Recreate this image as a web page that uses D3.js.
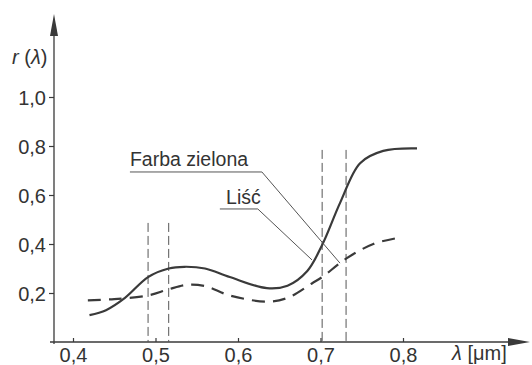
<!DOCTYPE html>
<html>
<head>
<meta charset="utf-8">
<script src="https://cdn.jsdelivr.net/npm/d3@7"></script>
<style>
  body { margin: 0; background: #fff; }
  svg text { font-family: "Liberation Sans", Arial, sans-serif; fill: #333; }
</style>
</head>
<body>
<svg id="chart" width="532" height="365"></svg>
<script>
// reflectance curves
var lambdaPaint = [0.42, 0.44, 0.463, 0.491, 0.516, 0.535, 0.56, 0.59, 0.635, 0.66, 0.684, 0.702, 0.724, 0.748, 0.776, 0.817];
var rPaint      = [0.11, 0.13, 0.18, 0.265, 0.30, 0.307, 0.30, 0.265, 0.22, 0.23, 0.29, 0.396, 0.57, 0.73, 0.78, 0.79];
var lambdaLeaf  = [0.418, 0.45, 0.491, 0.516, 0.538, 0.56, 0.59, 0.635, 0.66, 0.69, 0.702, 0.731, 0.764, 0.794];
var rLeaf       = [0.17, 0.175, 0.19, 0.215, 0.233, 0.228, 0.19, 0.165, 0.18, 0.24, 0.265, 0.34, 0.40, 0.425];
var markers     = [0.491, 0.516, 0.702, 0.731];
var markerTop   = [0.486, 0.486, 0.784, 0.784];
var xTicks = [0.4, 0.5, 0.6, 0.7, 0.8];
var yTicks = [0.2, 0.4, 0.6, 0.8, 1.0];
var labels = ['Farba zielona', 'Liść'];

var svg = d3.select('#chart'),
    ink = '#3a3a3a',
    fmt = function(d) { return d3.format('.1f')(d).replace('.', ','); };

var x = d3.scaleLinear().domain([0.4, 0.8]).range([73, 403]),
    y = d3.scaleLinear().domain([0, 1]).range([342, 97]);

// axes with arrow heads
svg.append('line').attr('x1', 50).attr('x2', 512).attr('y1', y(0)).attr('y2', y(0))
  .attr('stroke', ink).attr('stroke-width', 1.3);
svg.append('path').attr('d', 'M530,' + y(0) + 'L508,' + (y(0) - 4) + 'L508,' + (y(0) + 4) + 'Z').attr('fill', ink);
svg.append('line').attr('x1', x(0.4) - 19).attr('x2', x(0.4) - 19).attr('y1', y(0) + 2).attr('y2', 34)
  .attr('stroke', ink).attr('stroke-width', 1.3);
svg.append('path').attr('d', 'M' + (x(0.4) - 19) + ',14L' + (x(0.4) - 23) + ',36L' + (x(0.4) - 15) + ',36Z').attr('fill', ink);

var gx = svg.append('g').attr('transform', 'translate(0,' + y(0) + ')')
  .call(d3.axisBottom(x).tickValues(xTicks).tickSize(-4).tickFormat(fmt));
var gy = svg.append('g').attr('transform', 'translate(' + (x(0.4) - 19) + ',0)')
  .call(d3.axisLeft(y).tickValues(yTicks).tickSize(5).tickFormat(fmt));
[gx, gy].forEach(function(g) {
  g.select('.domain').remove();
  g.selectAll('.tick line').attr('stroke', ink).attr('stroke-width', 1.2);
  g.selectAll('.tick text').attr('font-size', 20).attr('fill', '#333');
});
gx.selectAll('.tick text').attr('y', 20).attr('dy', null);
gy.selectAll('.tick text').attr('x', -8).attr('dy', '0.35em');

// axis titles
var xt = svg.append('text').attr('x', 452).attr('y', 360).attr('font-size', 20);
xt.append('tspan').attr('font-style', 'italic').text('λ');
xt.append('tspan').text(' [μm]');
var yt = svg.append('text').attr('x', 12).attr('y', 64).attr('font-size', 20);
yt.append('tspan').attr('font-style', 'italic').text('r');
yt.append('tspan').text(' (');
yt.append('tspan').attr('font-style', 'italic').text('λ');
yt.append('tspan').text(')');

// dashed marker lines
svg.selectAll('line.marker').data(markers).enter().append('line')
  .attr('class', 'marker')
  .attr('x1', function(d) { return x(d); }).attr('x2', function(d) { return x(d); })
  .attr('y1', function(d, i) { return y(markerTop[i]); }).attr('y2', y(0))
  .attr('stroke', '#555').attr('stroke-width', 1).attr('stroke-dasharray', '9,4');

// curves
var line = d3.line().curve(d3.curveCatmullRom.alpha(0.5))
  .x(function(d) { return x(d[0]); }).y(function(d) { return y(d[1]); });

svg.append('path').datum(d3.zip(lambdaLeaf, rLeaf)).attr('d', line)
  .attr('fill', 'none').attr('stroke', ink).attr('stroke-width', 2.2).attr('stroke-dasharray', '13,8');
svg.append('path').datum(d3.zip(lambdaPaint, rPaint)).attr('d', line)
  .attr('fill', 'none').attr('stroke', ink).attr('stroke-width', 2.2);

// labels with leader lines (positions in data units)
var notes = [
  { text: labels[0], tx: 0.469, ty: 0.718, u0: 0.469, u1: 0.629, uy: 0.694, ex: 0.7236, ey: 0.322 },
  { text: labels[1], tx: 0.5855, ty: 0.563, u0: 0.578, u1: 0.624, uy: 0.543, ex: 0.6897, ey: 0.335 }
];
notes.forEach(function(n) {
  svg.append('text').attr('x', x(n.tx)).attr('y', y(n.ty)).attr('font-size', 19.5).text(n.text);
  svg.append('path')
    .attr('d', d3.line()([[x(n.u0), y(n.uy)], [x(n.u1), y(n.uy)], [x(n.ex), y(n.ey)]]))
    .attr('fill', 'none').attr('stroke', '#555').attr('stroke-width', 1);
});
</script>
</body>
</html>
